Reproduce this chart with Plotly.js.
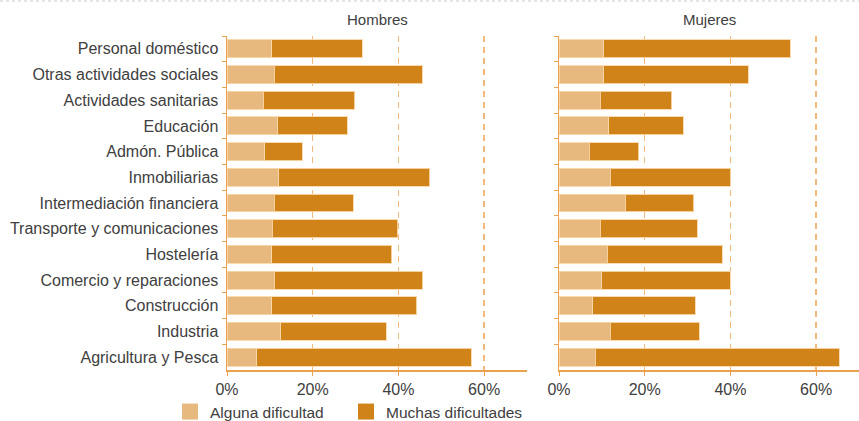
<!DOCTYPE html>
<html><head><meta charset="utf-8">
<script src="https://cdn.plot.ly/plotly-3.0.1.min.js"></script>
<style>html,body{margin:0;padding:0;background:#fff}#chart{width:859px;height:421px}</style>
</head><body><div id="chart"></div>
<script>
const categories = ["Personal doméstico","Otras actividades sociales","Actividades sanitarias","Educación","Admón. Pública","Inmobiliarias","Intermediación financiera","Transporte y comunicaciones","Hostelería","Comercio y reparaciones","Construcción","Industria","Agricultura y Pesca"];
const hombresAlguna = [10.4,11.0,8.4,11.8,8.8,12.1,11.0,10.6,10.4,11.0,10.4,12.5,6.9];
const hombresMuchas = [21.1,34.5,21.4,16.3,8.8,35.2,18.5,29.2,28.0,34.7,33.9,24.7,50.1];
const mujeresAlguna = [10.4,10.4,9.6,11.6,7.0,11.9,15.4,9.6,11.3,10.0,7.9,11.9,8.5];
const mujeresMuchas = [43.5,33.8,16.7,17.4,11.6,28.2,16.0,22.7,26.8,30.0,23.9,20.8,56.9];
const xTicks = [0,20,40,60];
const xTickText = ["0%","20%","40%","60%"];
const panelTitles = ["Hombres","Mujeres"];
const seriesNames = ["Alguna dificultad","Muchas dificultades"];

const cLight = '#e8b97f', cDark = '#d08318', axisC = '#eaa251', gridC = '#f2b87c';
const font = {family:'Liberation Sans, Arial, sans-serif', size:16, color:'#404040'};
function bar(x, color, xa, ya){
  return {type:'bar', orientation:'h', y:categories, x:x, xaxis:xa, yaxis:ya,
    showlegend:false, marker:{color:color, line:{color:'rgba(250,215,170,0.9)', width:1}}, hoverinfo:'x+y'};
}
function legendItem(name, color){
  return {type:'scatter', mode:'markers', x:[null], y:[null], name:name, xaxis:'x', yaxis:'y',
    showlegend:true, marker:{symbol:'square', size:16, color:color, line:{width:0}}};
}
const data = [
  bar(hombresAlguna, cLight, 'x','y'),
  bar(hombresMuchas, cDark, 'x','y'),
  bar(mujeresAlguna, cLight, 'x2','y2'),
  bar(mujeresMuchas, cDark, 'x2','y2'),
  legendItem(seriesNames[0], cLight),
  legendItem(seriesNames[1], cDark),
  legendItem(' ', 'rgba(0,0,0,0)')
];
const H = 421, W = 859;
const yDom = [(H-370)/H, (H-36)/H];
function xax(dom, anchor){
  return {domain:dom, anchor:anchor, range:[0,70], tickvals:xTicks, ticktext:xTickText,
    showline:true, linecolor:axisC, linewidth:1.5, ticks:'outside', ticklen:4, tickcolor:axisC,
    showgrid:true, gridcolor:gridC, gridwidth:1.5, griddash:'6px,5px', zeroline:false,
    tickfont:font, fixedrange:true, automargin:false};
}
function yax(dom, anchor, labels){
  return {domain:dom, anchor:anchor, type:'category', categoryarray:categories, categoryorder:'array',
    autorange:'reversed', showline:true,
    linecolor:axisC, linewidth:1.5, ticks:'outside', ticklen:4, tickcolor:axisC,
    tickson:'boundaries', showticklabels:labels, tickfont:font, ticklabelstandoff:4, showgrid:false, zeroline:false,
    automargin:false, fixedrange:true};
}
const layout = {
  width:W, height:H, margin:{l:0,r:0,t:0,b:0, autoexpand:false}, paper_bgcolor:'#fff', plot_bgcolor:'rgba(0,0,0,0)',
  barmode:'stack', bargap:0.3, font:font,
  xaxis: xax([227/W, 527/W], 'y'),
  yaxis: yax(yDom, 'x', true),
  xaxis2: xax([559/W, 1], 'y2'),
  yaxis2: yax(yDom, 'x2', false),
  showlegend:true,
  legend:{orientation:'h', x:170/W, xanchor:'left', y:(H-412)/H, yanchor:'middle', font:{family:font.family, size:15.5, color:'#404040'},
    bgcolor:'rgba(0,0,0,0)', entrywidth:131, itemwidth:30, itemsizing:'trace', traceorder:'normal'},
  annotations:[
    {text:panelTitles[0], xref:'paper', yref:'paper', x:377/W, y:(H-19)/H, showarrow:false, font:{family:font.family, size:15, color:'#404040'}, xanchor:'center', yanchor:'middle'},
    {text:panelTitles[1], xref:'paper', yref:'paper', x:709/W, y:(H-19)/H, showarrow:false, font:{family:font.family, size:15, color:'#404040'}, xanchor:'center', yanchor:'middle'}
  ],
  shapes:[
    {type:'line', xref:'paper', yref:'paper', x0:0, x1:1, y0:(H-1)/H, y1:(H-1)/H, line:{color:'#c8c8c8', width:1, dash:'dot'}}
  ]
};
Plotly.newPlot('chart', data, layout, {displayModeBar:false, staticPlot:true});
</script></body></html>
